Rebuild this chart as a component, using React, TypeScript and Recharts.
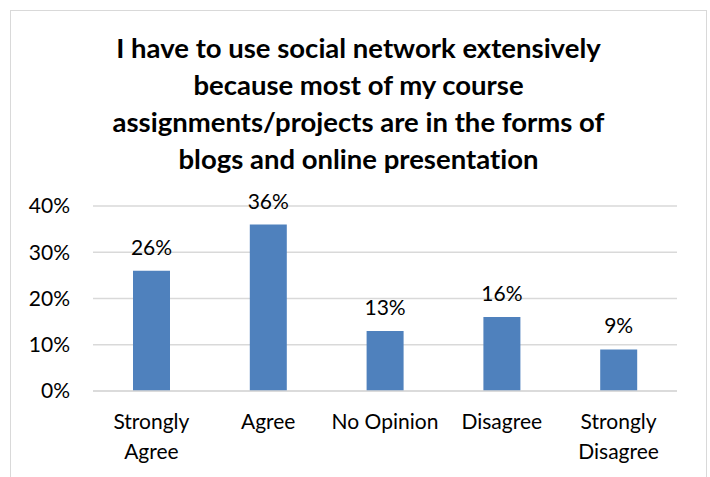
import { BarChart, Bar, XAxis, YAxis, CartesianGrid, LabelList } from "recharts";

const categories = ["Strongly Agree", "Agree", "No Opinion", "Disagree", "Strongly Disagree"];
const shares = [26, 36, 13, 16, 9];
const yTicks = [0, 10, 20, 30, 40];
const titleLines = [
  "I have to use social network extensively",
  "because most of my course",
  "assignments/projects are in the forms of",
  "blogs and online presentation",
];

const data = categories.map((name, i) => ({ name, value: shares[i] }));

const FONT = "Lato, 'Open Sans', sans-serif";
const TEXT = "#000000";
const FS = 21;

function CategoryTick(props: any) {
  const { x, y, payload } = props;
  const label: string = payload.value;
  const lines = label.startsWith("Strongly ") ? ["Strongly", label.slice(9)] : [label];
  return (
    <text x={x} y={y} textAnchor="middle" fontFamily={FONT} fontSize={FS} fill={TEXT}>
      {lines.map((l, i) => (
        <tspan key={i} x={x} dy={30}>
          {l}
        </tspan>
      ))}
    </text>
  );
}

export default function App() {
  return (
    <div
      style={{
        position: "fixed",
        left: 0,
        top: 0,
        width: 710,
        height: 477,
        background: "#fff",
        overflow: "hidden",
        fontFamily: FONT,
        fontVariantLigatures: "none",
      }}
    >
      <div
        style={{
          position: "absolute",
          left: 10,
          top: 10,
          width: 697,
          height: 480,
          border: "1.5px solid #d9d9d9",
          boxSizing: "border-box",
        }}
      />
      <div
        style={{
          position: "absolute",
          left: 10,
          top: 29,
          width: 697,
          textAlign: "center",
          fontWeight: 700,
          fontSize: 27.5,
          lineHeight: "37px",
          color: TEXT,
        }}
      >
        {titleLines.map((l, i) => (
          <div key={i}>{l}</div>
        ))}
      </div>
      <div style={{ position: "absolute", left: 0, top: 0 }}>
        <BarChart
          width={710}
          height={477}
          data={data}
          margin={{ top: 206, right: 33, bottom: 26, left: 33 }}
        >
          <CartesianGrid vertical={false} stroke="#d9d9d9" strokeWidth={1.5} />
          <XAxis
            dataKey="name"
            axisLine={{ stroke: "#d9d9d9", strokeWidth: 1.5 }}
            tickLine={false}
            interval={0}
            tick={<CategoryTick />}
            height={60}
          />
          <YAxis
            width={60}
            domain={[0, 40]}
            ticks={yTicks}
            interval={0}
            axisLine={false}
            tickLine={false}
            tickMargin={17}
            tickFormatter={(v: number) => `${v}%`}
            tick={{ fontSize: FS, fill: TEXT, fontFamily: FONT }}
          />
          <Bar dataKey="value" fill="#4f81bd" barSize={37} isAnimationActive={false}>
            <LabelList
              dataKey="value"
              position="top"
              offset={16}
              formatter={(v: any) => `${v}%`}
              style={{ fontSize: FS, fill: TEXT, fontFamily: FONT }}
            />
          </Bar>
        </BarChart>
      </div>
    </div>
  );
}
